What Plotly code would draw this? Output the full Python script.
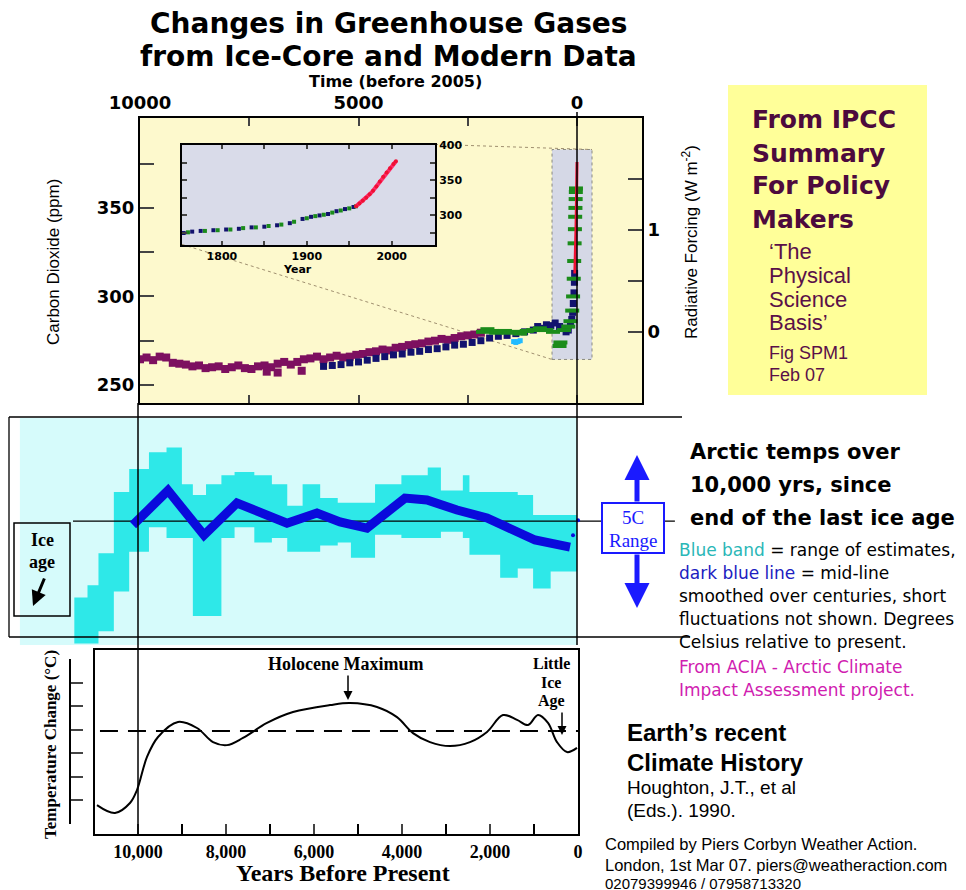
import plotly.graph_objects as go

W, H = 966, 890
# the page places the figure 8px in from the top-left corner; compensate so
# reference pixel positions land where they belong in the photographed window
OFF = 8


def PX(x):
    return (x - OFF) / W


def PY(y):
    return 1 - (y - OFF) / H


# ---------------- DATA ----------------
# Top panel: CO2 (ppm) vs years before 2005
purple_years = [10000, 9850, 9700, 9550, 9400, 9250, 9100, 8950, 8800, 8650, 8500, 8350, 8200, 8050,
                7900, 7750, 7600, 7450, 7300, 7150, 7000, 6850, 6700, 6550, 6400, 6250, 6100, 5950,
                5800, 5650, 5500, 5350, 5200, 5050, 4900, 4750, 4600, 4450, 4300, 4150, 4000, 3850,
                3700, 3550, 3400, 3250, 3100, 2950, 2800, 2650, 2500, 2350, 2200, 7100, 6850, 6300]
purple_ppm = [264.5, 265.5, 264, 266, 265.5, 262.5, 262, 261.5, 260.5, 261, 259.5, 260, 260.5, 259,
              260, 261, 259.5, 259, 260.5, 261, 260, 262, 263, 261.5, 263, 264.5, 265, 266,
              264.5, 265.5, 266.5, 265.5, 266, 267, 267.5, 268.5, 269, 270, 269.5, 271, 271.5, 272.5,
              273, 273.5, 274.5, 275, 276, 275.5, 276.5, 277.5, 278, 278.5, 279.5, 257.5, 257, 258]

navy_years = [5800, 5600, 5400, 5200, 5000, 4800, 4600, 4400, 4200, 4000, 3800, 3600, 3400, 3200,
              3000, 2800, 2600, 2400, 2200, 2000, 1800, 1600, 1400, 1200, 1000, 900, 800, 700, 600,
              500, 400, 300, 250, 200, 150, 120, 100, 85, 70, 60, 55]
navy_ppm = [260.5, 261, 261.5, 262.5, 263, 264, 265, 266, 267, 267.5, 268.5, 269, 270, 270.5,
            271.5, 272.5, 273, 274, 275, 276.5, 277.5, 278, 279, 280, 281, 283, 282, 284, 283.5,
            285, 283, 282, 280, 281, 284, 287, 291, 296, 302, 308, 313]

green_years = [2150, 2050, 1950, 1850, 1750, 1650, 1550, 1450, 1300, 1150, 1000, 850, 700, 550, 400,
               380, 300, 200, 150, 110, 90, 75, 65, 55, 48, 42, 36, 31, 27, 24]
green_ppm = [280, 281.5, 280.5, 279.5, 280, 280.5, 279.5, 280, 279, 280.5, 281, 282, 281, 280, 272,
             274, 281, 283, 286, 292, 300, 310, 320, 330, 338, 345, 350, 355, 359, 361]

cyan_years = [1450, 1400, 1350, 1300]
cyan_ppm = [274.5, 274, 274.5, 275]

red_years = [50, 42, 35, 28, 22, 16, 10, 5, 0]
red_ppm = [313, 318, 325, 332, 340, 349, 358, 367, 376]

# Inset: CO2 (ppm) vs calendar year
inset_navy_year = [1755, 1765, 1775, 1790, 1805, 1820, 1835, 1850, 1865, 1880, 1895, 1905, 1915,
                   1925, 1935, 1945, 1955]
inset_navy_ppm = [275, 277, 278, 279, 280, 281, 283, 284, 286, 289, 295, 298, 300, 302, 306, 309, 312]
inset_green_year = [1760, 1780, 1795, 1810, 1825, 1840, 1855, 1870, 1885, 1900, 1910, 1920, 1930,
                    1940, 1950, 1958]
inset_green_ppm = [276, 278, 279, 280, 282, 283, 285, 287, 291, 296, 299, 301, 304, 307, 310, 313]
inset_red_year = [1958, 1962, 1966, 1970, 1974, 1978, 1982, 1986, 1990, 1994, 1998, 2002, 2005]
inset_red_ppm = [313, 317, 321, 325, 330, 335, 341, 348, 355, 361, 367, 373, 377]

# Middle panel: Arctic temperature (deg C relative to present)
band_years = [11450, 11150, 10900, 10550, 10200, 9750, 9350, 9000, 8750, 8450, 8100, 7800, 7350,
              6950, 6600, 6250, 5850, 5450, 5150, 4600, 4000, 3400, 3100, 2600, 2450, 1750, 1350,
              1000, 600, 0]
band_upper = [-2.5, -2.1, -1.05, 0.95, 1.7, 2.25, 2.4, 1.2, 0.85, 1.2, 1.5, 1.6, 1.5,
              1.2, 0.5, 1.2, 0.75, 0.6, 0.6, 1.2, 1.5, 1.75, 1.0, 1.5, 0.95, 0.95, 0.85,
              0.2, 0.2, 0.2]
band_lower = [-4.0, -4.0, -3.6, -2.3, -1.0, -0.2, -0.55, -0.55, -3.1, -3.1, -0.55, -0.2, -0.7,
              -0.55, -1.0, -1.0, -0.8, -0.7, -1.2, -0.45, -0.55, -0.55, -0.35, -0.55, -1.1, -1.85,
              -1.55, -2.2, -1.65, -1.65]

mid_years = [10114, 9317, 8497, 7745, 6606, 5923, 5399, 4784, 3918, 3417, 2733, 2050, 957, 159]
mid_temp = [-0.13, 1.0, -0.46, 0.59, -0.07, 0.26, -0.03, -0.23, 0.75, 0.69, 0.36, 0.1, -0.62, -0.85]
recent_years = [91, -23]
recent_temp = [-0.46, 0.03]
zero_span = [11480, -2230]

# Bottom panel: Houghton et al. 1990 schematic
hol_years = [10932, 10523, 10182, 10023, 9795, 9545, 9091, 8659, 8295, 7977, 7614, 7068, 6477,
             5636, 5182, 4568, 4114, 3750, 3364, 2909, 2455, 2068, 1705, 1386, 1136, 909, 682,
             477, 250, 23]
hol_temp = [-3.2, -3.54, -3.11, -2.55, -1.12, -0.26, 0.39, 0.13, -0.48, -0.61, -0.30, 0.35, 0.82,
            1.12, 1.21, 1.04, 0.60, -0.09, -0.48, -0.65, -0.48, -0.04, 0.69, 0.48, 0.26, 0.69, 0.35,
            -0.48, -0.91, -0.73]

top_tickvals = [10000, 7500, 5000, 2500, 0]
top_ticktext = ['10000', '', '5000', '', '0']
co2_tickvals = [250, 275, 300, 325, 350, 375]
co2_ticktext = ['250', '', '300', '', '350', '']
rf_tickvals = [0, 0.5, 1, 1.5]
rf_ticktext = ['0', '', '1', '']
inset_xvals = [1800, 1850, 1900, 1950, 2000]
inset_xtext = ['1800', '', '1900', '', '2000']
inset_yvals = [275, 300, 325, 350, 375, 400]
inset_ytext = ['', '300', '', '350', '', '400']
bot_tickvals = [10000, 8000, 6000, 4000, 2000, 0]
bot_ticktext = ['10,000', '8,000', '6,000', '4,000', '2,000', '0']
bot_minor = [9000, 7000, 5000, 3000, 1000]
bracket_vals = [-4, -3, -2, -1, 0, 1, 2, 3]

# ---------------- COLOURS ----------------
PURPLE = '#7d1060'
NAVY = '#12126e'
GREEN = '#1b8c1b'
RED = '#ee1133'
PINK = '#ff2a6a'
CYAN_BAND = '#2ee8e8'
CYAN_BG = '#d6fbfb'
BLUE_LINE = '#0a0adc'

fig = go.Figure()

# Top panel
fig.add_trace(go.Scatter(x=purple_years, y=purple_ppm, mode='markers', xaxis='x', yaxis='y',
                         marker=dict(symbol='square', size=8, color=PURPLE), hoverinfo='skip'))
fig.add_trace(go.Scatter(x=navy_years, y=navy_ppm, mode='markers', xaxis='x', yaxis='y',
                         marker=dict(symbol='square', size=7, color=NAVY), hoverinfo='skip'))
fig.add_trace(go.Scatter(x=green_years, y=green_ppm, mode='markers', xaxis='x', yaxis='y',
                         marker=dict(symbol='line-ew', size=10, color=GREEN,
                                     line=dict(width=4, color=GREEN)), hoverinfo='skip'))
fig.add_trace(go.Scatter(x=cyan_years, y=cyan_ppm, mode='markers', xaxis='x', yaxis='y',
                         marker=dict(symbol='square', size=5, color='#22bbff'), hoverinfo='skip'))
fig.add_trace(go.Scatter(x=red_years, y=red_ppm, mode='lines', xaxis='x', yaxis='y',
                         line=dict(color=RED, width=3), hoverinfo='skip'))
fig.add_trace(go.Scatter(x=[], y=[], xaxis='x', yaxis='y2', hoverinfo='skip'))

# Inset
fig.add_trace(go.Scatter(x=inset_navy_year, y=inset_navy_ppm, mode='markers', xaxis='x2', yaxis='y3',
                         marker=dict(symbol='square', size=4, color=NAVY), hoverinfo='skip'))
fig.add_trace(go.Scatter(x=inset_green_year, y=inset_green_ppm, mode='markers', xaxis='x2', yaxis='y3',
                         marker=dict(symbol='square', size=4, color=GREEN), hoverinfo='skip'))
fig.add_trace(go.Scatter(x=inset_red_year, y=inset_red_ppm, mode='lines+markers', xaxis='x2', yaxis='y3',
                         line=dict(color=PINK, width=4), marker=dict(size=4, color=RED),
                         hoverinfo='skip'))

# Middle panel
fig.add_trace(go.Scatter(x=band_years, y=band_upper, mode='lines', xaxis='x3', yaxis='y4',
                         line=dict(width=0, shape='hv', color=CYAN_BAND), hoverinfo='skip'))
fig.add_trace(go.Scatter(x=band_years, y=band_lower, mode='lines', xaxis='x3', yaxis='y4',
                         line=dict(width=0, shape='hv', color=CYAN_BAND), fill='tonexty',
                         fillcolor=CYAN_BAND, hoverinfo='skip'))
fig.add_trace(go.Scatter(x=zero_span, y=[0, 0], mode='lines', xaxis='x3', yaxis='y4',
                         line=dict(color='black', width=1.2), hoverinfo='skip'))
fig.add_trace(go.Scatter(x=mid_years, y=mid_temp, mode='lines', xaxis='x3', yaxis='y4',
                         line=dict(color=BLUE_LINE, width=9), hoverinfo='skip'))
fig.add_trace(go.Scatter(x=recent_years, y=recent_temp, mode='markers', xaxis='x3', yaxis='y4',
                         marker=dict(size=4, color=BLUE_LINE), hoverinfo='skip'))

# Bottom panel
fig.add_trace(go.Scatter(x=hol_years, y=hol_temp, mode='lines', xaxis='x4', yaxis='y5',
                         line=dict(color='black', width=2, shape='spline', smoothing=1.0),
                         hoverinfo='skip'))
fig.add_trace(go.Scatter(x=[], y=[], xaxis='x4', yaxis='y6', hoverinfo='skip'))

# ---------------- SHAPES ----------------
shapes = []
shapes.append(dict(type='rect', xref='paper', yref='paper', x0=PX(728), x1=PX(927), y0=PY(395), y1=PY(85),
                   fillcolor='#ffff99', line=dict(width=0), layer='below'))
shapes.append(dict(type='rect', xref='x domain', yref='y domain', x0=0, x1=1, y0=0, y1=1,
                   fillcolor='#fdf9cd', line=dict(width=0), layer='below'))
shapes.append(dict(type='rect', xref='x', yref='y', x0=572, x1=-343, y0=264.4, y1=383,
                   fillcolor='#d5d8e6', line=dict(width=1, color='#8a8a80', dash='dot'), layer='below'))
shapes.append(dict(type='line', xref='x', yref='y', x0=9039, y0=329.4, x1=572, y1=264.4,
                   line=dict(width=1, color='#a09070', dash='dot'), layer='below'))
shapes.append(dict(type='line', xref='x', yref='y', x0=3249, y0=385.9, x1=-343, y1=383,
                   line=dict(width=1, color='#a09070', dash='dot'), layer='below'))
shapes.append(dict(type='rect', xref='x2 domain', yref='y3 domain', x0=0, x1=1, y0=0, y1=1,
                   fillcolor='#d9dbe9', line=dict(width=0), layer='below'))
shapes.append(dict(type='rect', xref='x3', yref='y4', x0=12690, x1=0, y0=-4.05, y1=3.37,
                   fillcolor=CYAN_BG, line=dict(width=0), layer='below'))
for (x0, y0, x1, y1) in [(9, 417, 682, 417), (9, 637, 690, 637), (9, 417, 9, 637)]:
    shapes.append(dict(type='line', xref='paper', yref='paper', x0=PX(x0), y0=PY(y0), x1=PX(x1), y1=PY(y1),
                       line=dict(color='black', width=1.3)))
shapes.append(dict(type='line', xref='paper', yref='paper', x0=PX(138), x1=PX(138), y0=PY(403), y1=PY(835),
                   line=dict(color='black', width=1.5)))
shapes.append(dict(type='line', xref='paper', yref='paper', x0=PX(577), x1=PX(577), y0=PY(112), y1=PY(645),
                   line=dict(color='black', width=1.5)))
shapes.append(dict(type='rect', xref='paper', yref='paper', x0=PX(14), x1=PX(70), y0=PY(616), y1=PY(523),
                   line=dict(color='black', width=1.5)))
shapes.append(dict(type='rect', xref='paper', yref='paper', x0=PX(602), x1=PX(664), y0=PY(553), y1=PY(503),
                   line=dict(color='#1a1aff', width=2), fillcolor='white'))
shapes.append(dict(type='line', xref='x4', yref='y5', x0=10864, x1=0, y0=0, y1=0,
                   line=dict(color='black', width=2, dash='18px,10px')))

# ---------------- ANNOTATIONS ----------------
ann = []


def txt(x, y, text, size, family='Liberation Sans', color='black', bold=False, xanchor='left', angle=0):
    ann.append(dict(x=PX(x), y=PY(y), xref='paper', yref='paper', text=text, showarrow=False,
                    xanchor=xanchor, yanchor='middle', textangle=angle,
                    font=dict(family=family, size=size, color=color, weight='bold' if bold else 'normal')))


def arrow(xh, yh, xt, yt, color='black', width=2, head=2, size=1.0):
    ann.append(dict(x=PX(xh), y=PY(yh), xref='paper', yref='paper', text='', showarrow=True,
                    ax=xt - xh, ay=yt - yh, arrowcolor=color, arrowwidth=width, arrowhead=head,
                    arrowsize=size))


DJ = 'DejaVu Sans'
SERIF = 'Liberation Serif'
txt(388, 24, 'Changes in Greenhouse Gases', 28, DJ, bold=True, xanchor='center')
txt(388, 56, 'from Ice-Core and Modern Data', 28, DJ, bold=True, xanchor='center')
txt(395, 81, 'Time (before 2005)', 16, DJ, bold=True, xanchor='center')
txt(53, 262, 'Carbon Dioxide (ppm)', 17, xanchor='center', angle=-90)
txt(690, 242, 'Radiative Forcing (W m<sup>-2</sup>)', 17, xanchor='center', angle=-90)
txt(297, 269, 'Year', 11, DJ, bold=True, xanchor='center')

IPC = '#4d0a3d'
for i, s in enumerate(['From IPCC', 'Summary', 'For Policy', 'Makers']):
    txt(750, 120 + 33 * i, s, 25, DJ, color=IPC, bold=True)
for i, s in enumerate(['\u2018The', 'Physical', 'Science', 'Basis\u2019']):
    txt(767, 252 + 23.5 * i, s, 22, color='#5a1048')
txt(767, 353, 'Fig SPM1', 18, color='#5a1048')
txt(767, 375, 'Feb 07', 18, color='#5a1048')

for i, s in enumerate(['Arctic temps over', '10,000 yrs, since', 'end of the last ice age']):
    txt(688, 452 + 33 * i, s, 21, DJ, bold=True)
desc = ['<span style="color:#2ab7b7">Blue band</span> = range of estimates,',
        '<span style="color:#2020c0">dark blue line</span> = mid-line',
        'smoothed over centuries, short',
        'fluctuations not shown. Degrees',
        'Celsius relative to present.']
for i, s in enumerate(desc):
    txt(677, 550 + 23 * i, s, 17, DJ)
txt(677, 667, 'From ACIA - Arctic Climate', 17, DJ, color='#d020b0')
txt(677, 690, 'Impact Assessment project.', 17, DJ, color='#d020b0')

txt(625, 732, 'Earth\u2019s recent', 24, bold=True)
txt(625, 762, 'Climate History', 24, bold=True)
txt(625, 787, 'Houghton, J.T., et al', 19)
txt(625, 810, '(Eds.). 1990.', 19)
txt(603, 844, 'Compiled by Piers Corbyn Weather Action.', 16.5)
txt(603, 865, 'London, 1st Mar 07. piers@weatheraction.com', 16.5)
txt(603, 883, '02079399946 / 07958713320', 15)

txt(42, 540, 'Ice', 18, SERIF, bold=True, xanchor='center')
txt(42, 562, 'age', 18, SERIF, bold=True, xanchor='center')
arrow(33, 606, 45, 577, width=3, head=2, size=1.0)

txt(633, 518, '5C', 19, SERIF, color='#1a1aff', xanchor='center')
txt(633, 540, 'Range', 19, SERIF, color='#1a1aff', xanchor='center')
arrow(637, 455, 637, 503, color='#1a1aff', width=5, head=2, size=1.0)
arrow(637, 608, 637, 553, color='#1a1aff', width=5, head=2, size=1.0)

txt(345, 664, 'Holocene Maximum', 18, SERIF, bold=True, xanchor='center')
arrow(348, 700, 348, 674, width=1.5, head=2, size=1.2)
txt(551, 663, 'Little', 16, SERIF, bold=True, xanchor='center')
txt(551, 682, 'Ice', 16, SERIF, bold=True, xanchor='center')
txt(551, 701, 'Age', 16, SERIF, bold=True, xanchor='center')
arrow(562, 735, 562, 711, width=1.5, head=2, size=1.2)
txt(50, 745, 'Temperature Change (\u00b0C)', 17, SERIF, bold=True, xanchor='center', angle=-90)
txt(343, 873, 'Years Before Present', 24, SERIF, bold=True, xanchor='center')

# ---------------- LAYOUT ----------------
tickfont_big = dict(family=DJ, size=18, color='black', weight='bold')
small_bold = dict(family=DJ, size=11, color='black', weight='bold')
hidden = dict(visible=False, showgrid=False, zeroline=False, automargin=False)

fig.update_layout(
    width=W, height=H, autosize=False, margin=dict(l=0, r=0, t=0, b=0, pad=0, autoexpand=False),
    paper_bgcolor='white', plot_bgcolor='rgba(0,0,0,0)', showlegend=False,
    shapes=shapes, annotations=ann,
    xaxis=dict(domain=[PX(140), PX(642)], range=[10000, -1487], anchor='y', side='top',
               tickvals=top_tickvals, ticktext=top_ticktext, ticks='inside', ticklen=8, tickwidth=2,
               showline=True, linewidth=2, linecolor='black', mirror='ticks', showgrid=False,
               zeroline=False, tickfont=tickfont_big, automargin=False),
    yaxis=dict(domain=[PY(403), PY(118)], range=[239.8, 400.8], anchor='x',
               tickvals=co2_tickvals, ticktext=co2_ticktext, ticks='inside', ticklen=14, tickwidth=2,
               showline=True, linewidth=2, linecolor='black', showgrid=False, zeroline=False,
               tickfont=tickfont_big, automargin=False),
    yaxis2=dict(overlaying='y', side='right', anchor='x', range=[-0.696, 2.098],
                tickvals=rf_tickvals, ticktext=rf_ticktext, ticks='inside', ticklen=14, tickwidth=2,
                showline=True, linewidth=2, linecolor='black', showgrid=False, zeroline=False,
                tickfont=tickfont_big, automargin=False),
    xaxis2=dict(domain=[PX(182), PX(435)], range=[1753, 2051], anchor='y3',
                tickvals=inset_xvals, ticktext=inset_xtext, ticks='inside', ticklen=4, tickwidth=2,
                showline=True, linewidth=2, linecolor='black', mirror='ticks', showgrid=False,
                zeroline=False, tickfont=small_bold, automargin=False),
    yaxis3=dict(domain=[PY(245), PY(145)], range=[258, 400], anchor='x2', side='right',
                tickvals=inset_yvals, ticktext=inset_ytext, ticks='inside', ticklen=5, tickwidth=2,
                showline=True, linewidth=2, linecolor='black', mirror='ticks', showgrid=False,
                zeroline=False, tickfont=small_bold, automargin=False),
    xaxis3=dict(domain=[PX(9), PX(685)], range=[12938, -2460], anchor='y4', **hidden),
    yaxis4=dict(domain=[PY(645), PY(417)], range=[-4.05, 3.40], anchor='x3', **hidden),
    xaxis4=dict(domain=[PX(95), PX(578)], range=[10977, 0], anchor='y5',
                tickvals=bot_tickvals, ticktext=bot_ticktext, ticks='inside', ticklen=10, tickwidth=2,
                minor=dict(tickvals=bot_minor, ticks='inside', ticklen=10, tickwidth=2, tickcolor='black'),
                showline=True, linewidth=2, linecolor='black', mirror=True, showgrid=False,
                zeroline=False, tickfont=dict(family=SERIF, size=18, color='black', weight='bold'),
                automargin=False),
    yaxis5=dict(domain=[PY(834), PY(650)], range=[-4.45, 3.50], anchor='x4',
                showticklabels=False, ticks='', showline=True, linewidth=2, linecolor='black',
                mirror=True, showgrid=False, zeroline=False, automargin=False),
    yaxis6=dict(domain=[PY(824), PY(659)], range=[-4.03, 3.03], anchor='free', position=PX(70),
                tickvals=bracket_vals, ticks='inside', ticklen=12, tickwidth=2, showticklabels=False,
                showline=True, linewidth=2, linecolor='black', showgrid=False, zeroline=False,
                automargin=False),
)

fig.write_html('out.html')
